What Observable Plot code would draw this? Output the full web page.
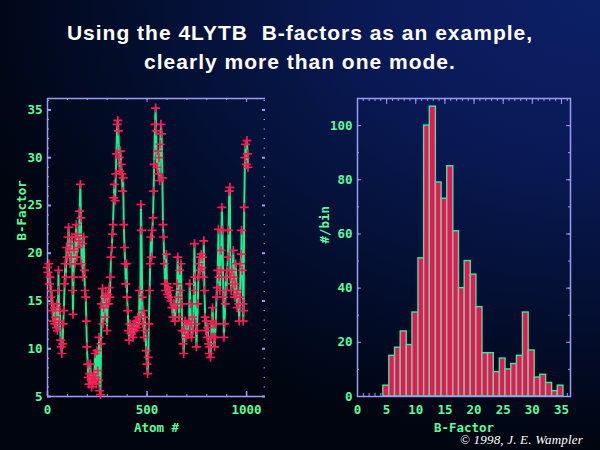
<!DOCTYPE html>
<html>
<head>
<meta charset="utf-8">
<script src="https://cdn.jsdelivr.net/npm/d3@7"></script>
<script src="https://cdn.jsdelivr.net/npm/@observablehq/plot@0.6"></script>
<style>
html, body { margin: 0; padding: 0; }
body {
  width: 600px; height: 450px; overflow: hidden; position: relative;
  background: radial-gradient(ellipse 120% 110% at 100% 0%, #0c2066 0%, #0a1a58 30%, #041034 60%, #000510 90%);
}
#title {
  position: absolute; left: 0; top: 18px; width: 600px; text-align: center;
  color: #ffffff; font-family: "Liberation Sans", Arial, sans-serif; font-weight: bold;
  font-size: 21px; line-height: 29px; letter-spacing: 1px;
}
#left { position: absolute; left: 0; top: 90px; }
#right { position: absolute; left: 300px; top: 90px; }
#credit {
  position: absolute; left: 460px; top: 432px; color: #ffffff;
  font-family: "Liberation Serif", serif; font-style: italic; font-size: 13px; white-space: nowrap; letter-spacing: 0.2px;
}
</style>
</head>
<body>
<div id="title">Using the 4LYTB&nbsp; B-factors as an example,<br>clearly more than one mode.</div>
<div id="left"></div>
<div id="right"></div>
<div id="credit">© 1998, J. E. Wampler</div>
<script>
// ---- Left panel: B-factor along the atom sequence ----
const atomNumber = [0,3,7,10,13,17,20,24,27,30,34,37,40,44,47,50,54,55,59,62,66,69,72,76,79,82,86,89,92,96,99,103,106,109,113,116,119,123,126,128,131,134,138,141,145,148,151,155,158,161,165,168,171,175,178,182,185,188,192,195,198,202,205,208,212,215,219,222,225,229,232,235,239,242,245,249,252,256,259,262,266,269,272,276,279,282,286,289,292,296,299,303,306,309,313,316,319,323,326,329,333,336,340,343,346,350,353,356,360,363,366,370,373,377,380,383,387,390,393,397,400,403,407,410,414,419,424,429,434,439,444,449,454,459,462,466,469,472,476,479,482,486,489,492,496,499,503,506,509,513,516,519,523,526,530,533,536,540,543,546,550,553,557,560,563,566,570,573,577,580,583,587,590,593,597,600,603,607,610,615,620,625,630,635,640,645,651,654,657,661,664,667,671,674,677,681,684,688,691,696,701,706,711,714,718,721,724,728,731,735,738,741,745,748,751,755,758,761,765,768,772,775,778,782,785,788,792,795,798,802,805,809,812,815,819,822,825,829,832,835,839,842,845,849,852,855,859,862,866,869,872,876,879,883,886,889,893,896,899,903,906,909,913,916,919,923,926,929,933,936,940,943,946,950,953,956,960,963,967,970,973,975,978,982,983,985,988,992,995,999,1002,1005,1007];
const bFactor = [18.5,18.0,18.9,16.8,17.5,15.4,16.1,14.0,14.7,12.9,14.3,12.6,13.3,12.2,14.7,11.9,16.1,18.2,12.9,14.0,10.9,10.2,9.5,10.5,12.6,14.0,16.8,18.9,17.5,20.6,19.6,21.7,22.7,20.3,18.9,21.0,19.6,21.7,16.1,13.6,17.5,20.3,18.9,21.7,23.0,19.6,22.0,20.6,21.3,24.4,27.2,23.7,18.9,21.0,17.5,21.7,18.2,16.1,15.4,12.9,10.2,8.4,7.0,6.3,7.4,8.4,6.7,6.0,7.0,6.3,7.4,6.7,9.5,7.0,6.3,9.8,7.7,6.7,11.2,5.6,5.2,10.5,14.7,16.3,12.6,14.3,15.4,13.3,15.7,14.7,11.9,15.7,14.7,16.4,15.4,17.5,19.6,20.6,22.0,23.0,25.8,27.2,25.5,28.3,30.4,33.5,33.9,32.8,30.0,28.6,30.7,29.3,28.3,26.5,27.9,23.0,20.6,18.9,16.8,18.9,15.4,14.0,11.9,10.9,12.6,11.6,12.2,11.2,12.6,11.9,12.9,12.2,13.3,12.6,16.1,13.3,25.1,22.4,15.4,12.6,14.0,11.2,13.3,11.9,9.8,8.4,7.4,9.1,12.6,16.1,18.9,21.7,19.6,22.4,23.7,26.5,29.3,33.5,35.2,32.8,29.0,30.7,28.3,30.0,27.6,31.4,33.5,32.5,27.9,23.0,21.7,18.9,16.8,16.1,19.9,16.8,15.7,16.4,15.4,16.1,15.0,14.3,13.3,14.7,12.9,14.3,16.8,19.6,15.4,13.3,18.2,16.1,18.9,14.7,11.9,10.5,9.5,11.9,12.9,11.2,12.6,11.5,12.9,16.8,14.7,12.6,11.2,13.3,11.9,16.1,21.0,17.5,12.6,10.2,11.9,14.7,17.5,18.9,19.6,18.2,19.9,18.5,19.6,17.5,21.3,16.1,13.3,11.9,12.9,11.2,12.2,10.5,9.5,10.2,9.1,11.2,12.9,14.3,12.6,11.2,10.2,11.2,12.6,15.4,16.4,18.2,22.5,17.5,16.1,18.2,20.3,24.8,22.4,15.4,11.2,12.6,14.7,17.5,16.1,18.2,19.6,22.4,26.5,26.9,17.5,16.1,18.2,16.8,20.3,17.5,15.4,16.8,18.9,15.7,14.3,16.1,14.7,12.9,15.4,18.9,19.9,22.4,18.2,14.7,12.9,14.0,24.8,30.0,31.4,29.3,31.8,30.4,29.0];
const leftXTicks = [0, 500, 1000];
const leftYTicks = [5, 10, 15, 20, 25, 30, 35];

// ---- Right panel: histogram of B-factors ----
const binEdges = [4.43,5.46,6.44,7.41,8.45,9.43,10.46,11.44,12.41,13.45,14.43,15.40,16.44,17.41,18.39,19.43,20.40,21.44,22.41,23.39,24.43,25.40,26.38,27.36,28.39,29.37,30.40,31.38,32.36,33.39,34.37,35.34];
const binCounts = [4,15,18,24,19,31,51,100,107,79,73,85,61,40,50,45,33,16,16,9,14,10,12,15,31,17,7,8,5,2,4];
const rightXTicks = [0, 5, 10, 15, 20, 25, 30, 35];
const rightYTicks = [0, 20, 40, 60, 80, 100];

const GREEN = "#5efc9c";
const FRAME = "#9c9cf2";
const LINE = "#17ee8e";
const RED = "#ff1a55";
const BAR = "#ff0a55";
const BAR_EDGE = "#2ef09c";

const font = {background: "transparent", color: GREEN, fontFamily: "'DejaVu Sans Mono', monospace", fontSize: "12.5px", fontWeight: "bold", overflow: "visible"};
const plain = d => String(d);

const pts = atomNumber.map((a, i) => ({atom: a, b: bFactor[i]}));

// left panel geometry
const LW = 280, LH = 350, LML = 47, LMR = 15, LMT = 8, LMB = 44;
const lpw = LW - LML - LMR, lph = LH - LMT - LMB;
const xDomL = [0, 1095], yDomL = [5, 36.2];
const yMinorL = d3.range(5, 37, 1);
const xMinorL = d3.range(0, 1001, 100);

const left = Plot.plot({
  width: LW, height: LH,
  marginLeft: LML, marginRight: LMR, marginTop: LMT, marginBottom: LMB,
  style: font,
  x: {domain: xDomL},
  y: {domain: yDomL},
  marks: [
    // frame lines (left, top, bottom)
    Plot.ruleX([xDomL[0]], {stroke: FRAME, strokeWidth: 1.5}),
    Plot.ruleY([yDomL[0]], {stroke: FRAME, strokeWidth: 1.5}),
    Plot.ruleY([yDomL[1]], {stroke: FRAME, strokeWidth: 1.5}),
    // left ticks
    Plot.ruleY(yMinorL, {stroke: FRAME, insetRight: lpw - 2}),
    Plot.ruleY(leftYTicks, {stroke: FRAME, strokeWidth: 2, insetRight: lpw - 4}),
    // right ticks (no line)
    Plot.ruleY(yMinorL, {stroke: FRAME, insetLeft: lpw - 1.5}),
    Plot.ruleY(leftYTicks, {stroke: FRAME, strokeWidth: 2, insetLeft: lpw - 3}),
    // top ticks
    Plot.ruleX(xMinorL, {stroke: FRAME, insetBottom: lph - 2}),
    Plot.ruleX(leftXTicks, {stroke: FRAME, insetBottom: lph - 4}),
    // bottom ticks
    Plot.ruleX(xMinorL, {stroke: FRAME, insetTop: lph - 2}),
    Plot.ruleX(leftXTicks, {stroke: FRAME, strokeWidth: 1.5, insetTop: lph - 5}),
    // data
    Plot.line(pts, {x: "atom", y: "b", stroke: LINE, strokeWidth: 2}),
    Plot.dot(pts, {x: "atom", y: "b", symbol: "plus", r: 3, stroke: RED, strokeWidth: 1.7}),
    // axes
    Plot.axisY({ticks: leftYTicks, tickSize: 0, tickPadding: 5, tickFormat: plain, label: null, fill: GREEN}),
    Plot.axisX({ticks: leftXTicks, tickSize: 0, tickPadding: 9, tickFormat: plain, label: null, fill: GREEN}),
    Plot.text(["Atom #"], {frameAnchor: "bottom", dy: 35, fill: GREEN, fontSize: 12.5}),
    Plot.text(["B-Factor"], {frameAnchor: "left", rotate: -90, dx: -26, dy: -7, fill: GREEN, fontSize: 12.5})
  ]
});
document.getElementById("left").appendChild(left);

// right panel geometry
const RW = 290, RH = 350, RML = 57, RMR = 20, RMT = 8, RMB = 44;
const rpw = RW - RML - RMR, rph = RH - RMT - RMB;
const xDomR = [0, 36.55], yDomR = [0, 110];
const xMinorR = d3.range(0, 37, 1);
const yMinorR = d3.range(0, 111, 10);

const bins = binCounts.map((c, i) => ({x1: binEdges[i], x2: binEdges[i + 1], count: c}));

const right = Plot.plot({
  width: RW, height: RH,
  marginLeft: RML, marginRight: RMR, marginTop: RMT, marginBottom: RMB,
  style: font,
  x: {domain: xDomR},
  y: {domain: yDomR},
  marks: [
    // top ticks
    Plot.ruleX(xMinorR, {stroke: FRAME, insetBottom: rph - 3}),
    Plot.ruleX(rightXTicks, {stroke: FRAME, insetBottom: rph - 6}),
    // bottom ticks
    Plot.ruleX(xMinorR, {stroke: FRAME, insetTop: rph - 3}),
    Plot.ruleX(rightXTicks, {stroke: FRAME, insetTop: rph - 6}),
    // left / right ticks
    Plot.ruleY(yMinorR, {stroke: FRAME, insetRight: rpw - 2}),
    Plot.ruleY(rightYTicks, {stroke: FRAME, insetRight: rpw - 4}),
    Plot.ruleY(yMinorR, {stroke: FRAME, insetLeft: rpw - 2}),
    Plot.ruleY(rightYTicks, {stroke: FRAME, insetLeft: rpw - 4}),
    // bars
    Plot.rectY(bins, {x1: "x1", x2: "x2", y: "count", fill: BAR, stroke: BAR_EDGE, strokeWidth: 1.4}),
    Plot.frame({stroke: FRAME, strokeWidth: 1.5}),
    Plot.axisY({ticks: rightYTicks, tickSize: 0, tickPadding: 5, tickFormat: plain, label: null, fill: GREEN}),
    Plot.axisX({ticks: rightXTicks, tickSize: 0, tickPadding: 9, tickFormat: plain, label: null, fill: GREEN}),
    Plot.text(["B-Factor"], {frameAnchor: "bottom", dy: 35, fill: GREEN, fontSize: 12.5}),
    Plot.text(["#/bin"], {frameAnchor: "left", rotate: -90, dx: -33, dy: -4, fill: GREEN, fontSize: 12.5})
  ]
});
document.getElementById("right").appendChild(right);
</script>
</body>
</html>
